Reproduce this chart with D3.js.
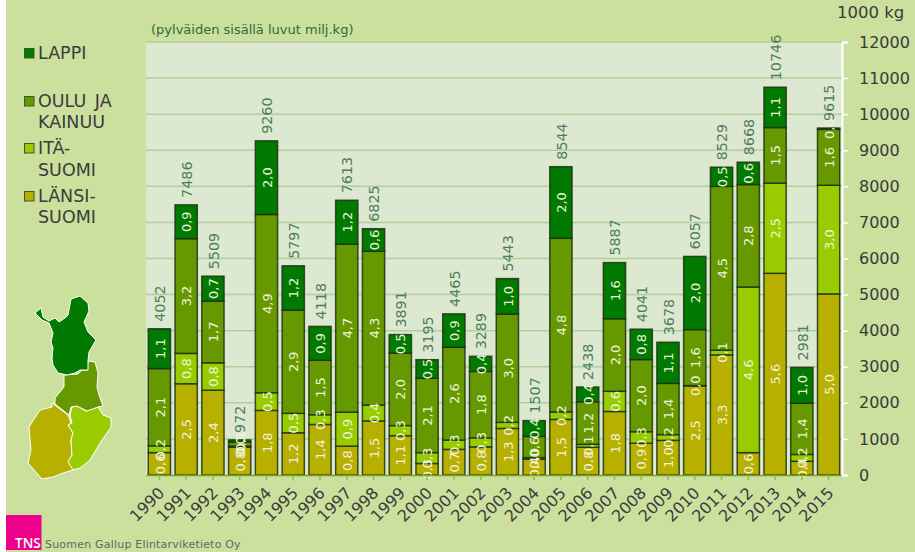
<!DOCTYPE html>
<html><head><meta charset="utf-8">
<style>html,body{margin:0;padding:0;background:#fff}svg{display:block}text{font-family:"DejaVu Sans",sans-serif}</style>
<script src="https://cdn.jsdelivr.net/npm/d3@7/dist/d3.min.js"></script>
</head><body><svg id="c" width="915" height="552"></svg>
<script>
const years = [1990,1991,1992,1993,1994,1995,1996,1997,1998,1999,2000,2001,2002,2003,2004,2005,2006,2007,2008,2009,2010,2011,2012,2013,2014,2015];
const lansi = [620,2530,2350,770,1790,1170,1400,800,1500,1090,320,710,780,1290,440,1540,770,1760,880,960,2470,3330,620,5590,380,5020];
const ita   = [190,840,760,30,490,540,270,940,440,280,300,260,250,170,40,210,80,560,320,160,10,130,4590,2500,190,3010];
const oulu  = [2140,3180,1710,110,4940,2860,1510,4660,4260,2010,2060,2570,1840,3000,590,4810,1180,2010,2000,1420,1550,4540,2840,1540,1420,1550];
const lappi = [1102,936,689,62,2040,1227,938,1213,625,511,515,925,419,983,437,1984,408,1557,841,1138,2027,529,618,1116,991,35];
const totals = [4052,7486,5509,972,9260,5797,4118,7613,6825,3891,3195,4465,3289,5443,1507,8544,2438,5887,4041,3678,6057,8529,8668,10746,2981,9615];
const seriesNames = ["LÄNSI","ITÄ","OULU","LAPPI"];
const seriesColors = ["#b8b000","#99cc00","#669900","#007a00"];
const yTicks = [0,1000,2000,3000,4000,5000,6000,7000,8000,9000,10000,11000,12000];
const legendRows = [
  {color:"#007a00", lines:["LAPPI"], y:48, base:[59]},
  {color:"#669900", lines:["OULU JA","KAINUU"], y:96, base:[107,128]},
  {color:"#99cc00", lines:["ITÄ-","SUOMI"], y:143, base:[154,176]},
  {color:"#b8b000", lines:["LÄNSI-","SUOMI"], y:191, base:[202,223]}
];
const mapLappi = [[35,313],[41,308],[43,317],[49,321],[55,318],[59,322],[65,318],[68,315],[71,299],[80,296],[88,303],[89,311],[84,322],[88,332],[96,340],[89,352],[88,361],[88,370],[80,370],[75,373],[67,375],[58,373],[53,365],[52,358],[53,348],[51,342],[53,333],[49,323],[42,320]];
const mapOulu = [[64,375],[78,374],[82,370],[87,370],[88,361],[95,362],[98,373],[97,387],[99,395],[103,406],[98,407],[87,411],[77,406],[71,407],[69,415],[55,404],[55,398],[64,387]];
const mapIta = [[72,407],[77,406],[86,411],[98,407],[103,415],[111,418],[111,427],[100,443],[90,460],[80,468],[73,470],[68,462],[72,455],[71,440],[73,433],[68,425],[72,423],[70,415]];
const mapLansi = [[52,403],[68,415],[71,423],[68,425],[73,433],[71,440],[72,455],[69,462],[73,470],[63,473],[53,477],[42,479],[28,463],[31,450],[29,427],[40,410],[52,407]];

const svg = d3.select("#c");
const L=146,R=842,T=42,B=475;
const x = d3.scaleBand().domain(years).range([L,R]).paddingInner(0.17).paddingOuter(0.085);
const y = d3.scaleLinear().domain([0,12000]).range([B,T]);

svg.append("rect").attr("x",6).attr("y",0).attr("width",909).attr("height",552).attr("fill","#cae09c");
svg.append("rect").attr("x",L).attr("y",T).attr("width",R-L).attr("height",B-T).attr("fill","#dde8d0");

svg.append("g").selectAll("line").data(yTicks.slice(1)).join("line")
  .attr("x1",L).attr("x2",R).attr("y1",d=>y(d)).attr("y2",d=>y(d))
  .attr("stroke","#aed09a").attr("stroke-width",1.5);

// stacked bars
const rows = years.map((yr,i)=>({year:yr,LÄNSI:lansi[i],ITÄ:ita[i],OULU:oulu[i],LAPPI:lappi[i]}));
const stacked = d3.stack().keys(seriesNames)(rows);
const gBars = svg.append("g");
stacked.forEach((s,k)=>{
  gBars.append("g").selectAll("rect").data(s).join("rect")
    .attr("x",d=>x(d.data.year)).attr("width",x.bandwidth())
    .attr("y",d=>y(d[1])).attr("height",d=>y(d[0])-y(d[1]))
    .attr("fill",seriesColors[k]).attr("stroke","#1c3314").attr("stroke-opacity",.85).attr("stroke-width",1.5);
});
const fmt = v=>(v/1000).toFixed(1).replace(".",",");
const gLab = svg.append("g");
stacked.forEach(s=>{
  gLab.append("g").selectAll("text").data(s).join("text")
    .attr("transform",d=>`translate(${x(d.data.year)+x.bandwidth()/2+.5},${y((d[0]+d[1])/2)}) rotate(-90)`)
    .attr("text-anchor","middle").attr("dy","0.36em")
    .attr("font-size",13).attr("fill","#eef3da")
    .text(d=>fmt(d[1]-d[0]));
});
svg.append("g").selectAll("text").data(years).join("text")
  .attr("transform",(d,i)=>`translate(${x(d)+x.bandwidth()/2+.5},${y(totals[i])-7}) rotate(-90)`)
  .attr("dy","0.36em").attr("font-size",14.3).attr("fill","#4f7d5a")
  .text((d,i)=>totals[i]);

// axes
const gx = svg.append("g").attr("transform",`translate(0,${B})`).call(d3.axisBottom(x).tickSize(5).tickSizeOuter(0));
gx.select(".domain").attr("stroke","#7d9e1e").attr("stroke-width",1.5);
gx.selectAll(".tick line").attr("stroke","#8fbf3a").attr("stroke-width",1.5);
gx.selectAll("text").attr("font-family","DejaVu Sans").attr("font-size",16).attr("fill","#3c3c3c")
  .attr("text-anchor","end").attr("dy",0).attr("y",0)
  .attr("transform","translate(6,19) rotate(-45)");

const gy = svg.append("g").attr("transform",`translate(${R},0)`).call(d3.axisRight(y).tickValues(yTicks).tickFormat(d3.format("d")).tickSize(6).tickPadding(11));
gy.select(".domain").attr("stroke","#fff").attr("stroke-width",2);
gy.selectAll(".tick line").attr("stroke","#fff").attr("stroke-width",1.5);
gy.selectAll("text").attr("font-family","DejaVu Sans").attr("font-size",16).attr("fill","#3a3a3a");

svg.append("text").attr("x",837).attr("y",18).attr("font-size",16.5).attr("fill","#3a3a3a").text("1000 kg");
svg.append("text").attr("x",151).attr("y",34).attr("font-size",13).attr("fill","#2e6b3a").text("(pylväiden sisällä luvut milj.kg)");

// legend
const gL = svg.append("g");
legendRows.forEach(r=>{
  gL.append("rect").attr("x",24.5).attr("y",r.y+.5).attr("width",9.5).attr("height",9.5).attr("fill",r.color).attr("stroke","#3a5a2a").attr("stroke-width",1);
  r.lines.forEach((t,i)=>gL.append("text").attr("x",38).attr("y",r.base[i]).attr("font-size",17.5).attr("word-spacing",3).attr("fill","#3c3c3c").text(t));
});

// map
const line = d3.line().curve(d3.curveLinearClosed);
[[mapLansi,"#b8b000"],[mapIta,"#99cc00"],[mapOulu,"#669900"],[mapLappi,"#007a00"]].forEach(([p,c])=>{
  svg.append("path").attr("d",line(p)).attr("fill",c).attr("stroke","#fff").attr("stroke-width",1).attr("stroke-linejoin","round");
});

// logo
svg.append("rect").attr("x",6).attr("y",515).attr("width",35.5).attr("height",35).attr("fill","#ec008c");
svg.append("text").attr("x",15).attr("y",548).style("font-family","'Open Sans'").attr("font-size",13.5).attr("font-weight",600).attr("fill","#fff").text("TNS");
svg.append("text").attr("x",45).attr("y",548).attr("font-size",11).attr("letter-spacing",.2).attr("fill","#666").text("Suomen Gallup Elintarviketieto Oy");
</script></body></html>
